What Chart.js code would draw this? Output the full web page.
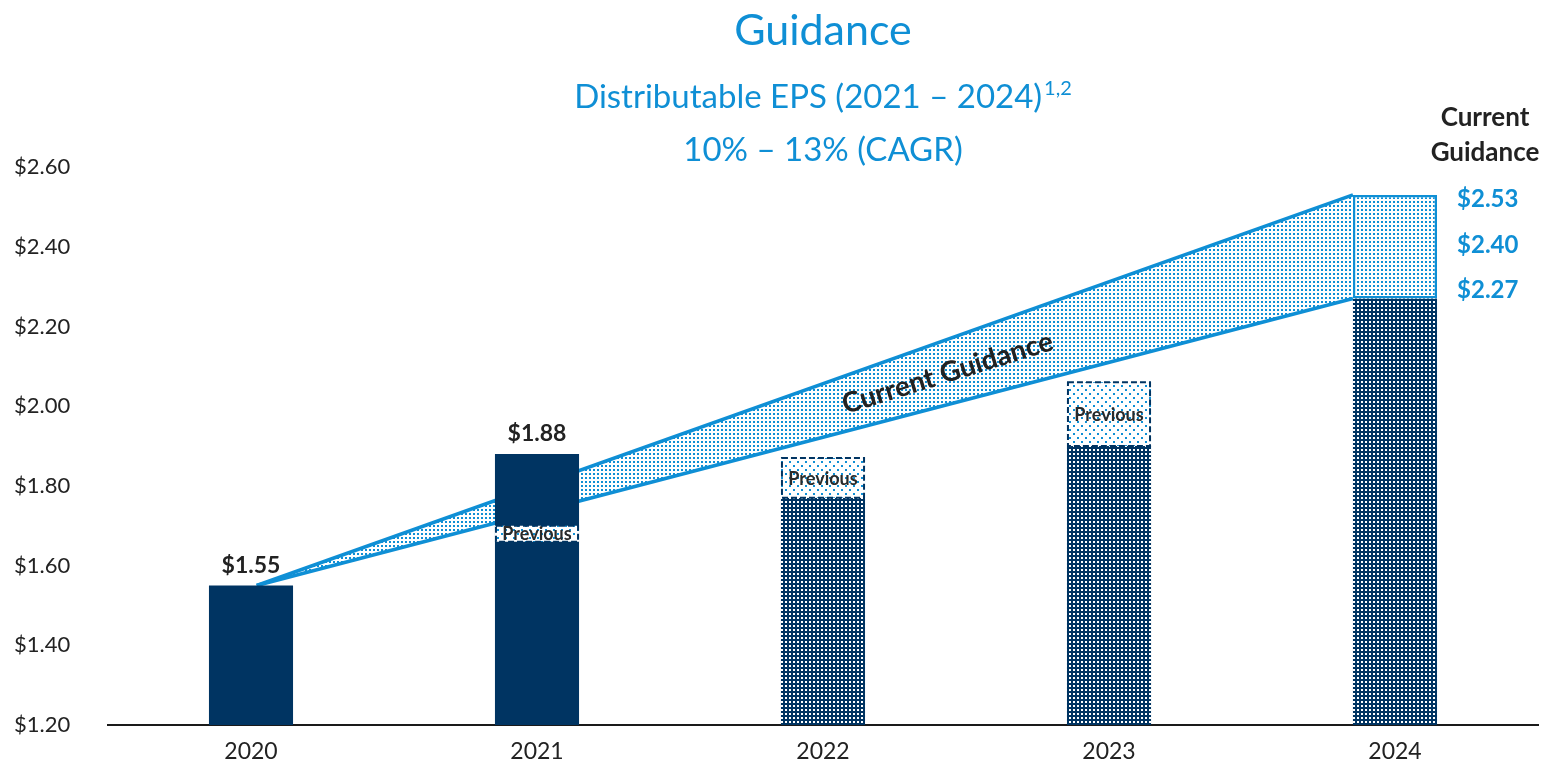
<!DOCTYPE html>
<html>
<head>
<meta charset="utf-8">
<script src="https://cdn.jsdelivr.net/npm/chart.js@4/dist/chart.umd.min.js"></script>
<style>
  html, body { margin: 0; padding: 0; background: #ffffff; }
  #wrap { width: 1552px; height: 767px; }
</style>
</head>
<body>
<div id="wrap"><canvas id="c" width="1552" height="767"></canvas></div>
<script>
// ---------------- data ----------------
const years = ['2020', '2021', '2022', '2023', '2024'];
const actualEps = [1.55, 1.88, null, null, null];
const estimateEps = [null, null, 1.77, 1.90, 2.27];
const guidanceRange = [null, null, null, null, [2.27, 2.53]];
const previousRange = [null, [1.66, 1.70], [1.77, 1.87], [1.90, 2.06], null];
const bandStartValue = 1.55;
const bandEndLow = 2.27;
const bandEndHigh = 2.53;
const rangeLabelValues = [2.53, 2.40, 2.27];
const rangeLabelTexts = ['$2.53', '$2.40', '$2.27'];
const valueLabelTexts = ['$1.55', '$1.88', null, null, null];
const yMin = 1.2, yMax = 2.6, yStep = 0.2;
const titleText = 'Guidance';
const subtitleLine1 = 'Distributable EPS (2021 – 2024)';
const subtitleSup = '1,2';
const subtitleLine2 = '10% – 13% (CAGR)';
const headerLines = ['Current', 'Guidance'];
const bandText = 'Current Guidance';
const previousText = 'Previous';

// ---------------- style ----------------
const NAVY = '#003462';
const BLUE = '#0f8fd5';
const DARK = '#222222';
const BAR_PCT = 0.294;
const FONT = 'Lato';

function makePattern(size, bg, fg, dots) {
  const c = document.createElement('canvas');
  c.width = size; c.height = size;
  const g = c.getContext('2d');
  if (bg) { g.fillStyle = bg; g.fillRect(0, 0, size, size); }
  g.fillStyle = fg;
  dots.forEach(d => g.fillRect(d[0], d[1], d[2], d[2]));
  return document.getElementById('c').getContext('2d').createPattern(c, 'repeat');
}
const navyDots = makePattern(4, NAVY, '#ffffff', [[1, 1, 2]]);
const bandDots = makePattern(4, '#ffffff', BLUE, [[1, 1, 2]]);
const prevDots = makePattern(8, '#ffffff', BLUE, [[1, 1, 2], [5, 5, 2]]);

const bandEndX = (years.length - 1) - BAR_PCT / 2;
const bandUpper = [{ x: 0.02, y: bandStartValue }, { x: bandEndX, y: bandEndHigh }];
const bandLower = [{ x: 0.02, y: bandStartValue }, { x: bandEndX, y: bandEndLow }];

const annotations = {
  id: 'annotations',
  beforeDraw(chart) {
    const { ctx, chartArea } = chart;
    const cx = (chartArea.left + chartArea.right) / 2;
    ctx.save();
    ctx.fillStyle = BLUE;
    ctx.textBaseline = 'alphabetic';
    ctx.textAlign = 'center';
    ctx.font = `43px ${FONT}`;
    ctx.fillText(titleText, cx, 45);
    ctx.font = `33px ${FONT}`;
    const w1 = ctx.measureText(subtitleLine1).width;
    ctx.font = `20px ${FONT}`;
    const ws = ctx.measureText(subtitleSup).width;
    const start = cx - (w1 + ws + 2) / 2;
    ctx.textAlign = 'left';
    ctx.font = `33px ${FONT}`;
    ctx.fillText(subtitleLine1, start, 108);
    ctx.font = `20px ${FONT}`;
    ctx.fillText(subtitleSup, start + w1 + 2, 95);
    ctx.textAlign = 'center';
    ctx.font = `33px ${FONT}`;
    ctx.fillText(subtitleLine2, cx, 161);
    ctx.restore();
  },
  afterDatasetsDraw(chart) {
    const { ctx, chartArea, scales } = chart;
    const x2 = scales.x2, y = scales.y;
    ctx.save();

    // value labels above actual bars
    const actMeta = chart.getDatasetMeta(2);
    ctx.font = `bold 23px ${FONT}`;
    ctx.fillStyle = DARK;
    ctx.textAlign = 'center';
    ctx.textBaseline = 'alphabetic';
    actMeta.data.forEach((el, i) => {
      if (!valueLabelTexts[i]) return;
      ctx.fillText(valueLabelTexts[i], el.x, el.y - 13);
    });

    // previous guidance boxes: dashed border + label
    const prevMeta = chart.getDatasetMeta(5);
    prevMeta.data.forEach((el, i) => {
      if (!previousRange[i]) return;
      const top = Math.min(el.y, el.base), bot = Math.max(el.y, el.base);
      const l = el.x - el.width / 2;
      ctx.save();
      ctx.setLineDash([6, 3]);
      ctx.strokeStyle = NAVY;
      ctx.lineWidth = 2;
      ctx.strokeRect(l + 1, top, el.width - 2, bot - top);
      ctx.restore();
      ctx.font = `bold 18px ${FONT}`;
      ctx.fillStyle = '#2a2a2a';
      ctx.textAlign = 'center';
      ctx.textBaseline = 'middle';
      ctx.fillText(previousText, el.x, (top + bot) / 2 + 1);
    });

    // range labels to the right of 2024
    const rangeMeta = chart.getDatasetMeta(4);
    const rEl = rangeMeta.data[years.length - 1];
    const rx = rEl.x + rEl.width / 2 + 20;
    ctx.font = `bold 24px ${FONT}`;
    ctx.fillStyle = BLUE;
    ctx.textAlign = 'left';
    ctx.textBaseline = 'middle';
    const offs = [4, -1, -8];
    rangeLabelValues.forEach((v, i) => {
      ctx.fillText(rangeLabelTexts[i], rx, y.getPixelForValue(v) + offs[i]);
    });

    // header "Current Guidance"
    ctx.font = `bold 26px ${FONT}`;
    ctx.fillStyle = DARK;
    ctx.textAlign = 'center';
    ctx.textBaseline = 'middle';
    const hx = rEl.x + rEl.width / 2 + 48;
    ctx.fillText(headerLines[0], hx, chartArea.top - 49);
    ctx.fillText(headerLines[1], hx, chartArea.top - 14);

    // rotated band label
    const xs = x2.getPixelForValue(bandUpper[0].x), xe = x2.getPixelForValue(bandUpper[1].x);
    const ys = y.getPixelForValue(bandStartValue);
    const ye = (y.getPixelForValue(bandEndHigh) + y.getPixelForValue(bandEndLow)) / 2;
    const ang = Math.atan2(ye - ys, xe - xs);
    const t = 0.63;
    const tx = xs + (xe - xs) * t, ty = ys + (ye - ys) * t;
    ctx.translate(tx, ty);
    ctx.rotate(ang);
    ctx.font = `bold 28px ${FONT}`;
    ctx.fillStyle = DARK;
    ctx.textAlign = 'center';
    ctx.textBaseline = 'middle';
    ctx.fillText(bandText, 0, 1);
    ctx.restore();
  }
};

new Chart(document.getElementById('c'), {
  data: {
    labels: years,
    datasets: [
      { type: 'line', label: 'upper', xAxisID: 'x2', yAxisID: 'y', data: bandUpper,
        borderColor: BLUE, borderWidth: 3.5, pointRadius: 0, fill: false, order: 10 },
      { type: 'line', label: 'lower', xAxisID: 'x2', yAxisID: 'y', data: bandLower,
        borderColor: BLUE, borderWidth: 3.5, pointRadius: 0, fill: '-1', backgroundColor: bandDots, order: 9 },
      { type: 'bar', label: 'actual', xAxisID: 'x', yAxisID: 'y', data: actualEps,
        backgroundColor: NAVY, grouped: false, barPercentage: BAR_PCT, categoryPercentage: 1, order: 6 },
      { type: 'bar', label: 'estimate', xAxisID: 'x', yAxisID: 'y', data: estimateEps,
        backgroundColor: navyDots, grouped: false, barPercentage: BAR_PCT, categoryPercentage: 1, order: 6 },
      { type: 'bar', label: 'guidance', xAxisID: 'x', yAxisID: 'y', data: guidanceRange,
        backgroundColor: bandDots, borderColor: BLUE, borderWidth: 2.5, borderSkipped: false,
        grouped: false, barPercentage: BAR_PCT, categoryPercentage: 1, order: 4 },
      { type: 'bar', label: 'previous', xAxisID: 'x', yAxisID: 'y', data: previousRange,
        backgroundColor: prevDots, grouped: false, barPercentage: BAR_PCT, categoryPercentage: 1, order: 3 }
    ]
  },
  options: {
    responsive: false,
    animation: false,
    layout: { padding: { top: 167, right: 14, left: 14, bottom: 0 } },
    plugins: {
      legend: { display: false }, tooltip: { enabled: false }, title: { display: false },
      filler: { drawTime: 'beforeDatasetsDraw' }
    },
    scales: {
      x: {
        type: 'category', offset: true,
        grid: { display: false, drawTicks: false },
        border: { display: true, color: '#1a1a1a', width: 2 },
        ticks: { color: DARK, font: { family: FONT, size: 23 }, padding: 13 },
        afterFit(s) { s.height = 42; }
      },
      x2: { type: 'linear', display: false, min: -0.5, max: years.length - 0.5 },
      y: {
        min: yMin, max: yMax,
        grid: { display: false, drawTicks: false },
        border: { display: false },
        ticks: { stepSize: yStep, color: DARK, font: { family: FONT, size: 22 }, padding: 0,
          crossAlign: 'far',
          callback: v => '$' + Number(v).toFixed(2) },
        afterFit(s) { s.width = 94; }
      }
    }
  },
  plugins: [annotations]
});
</script>
</body>
</html>
